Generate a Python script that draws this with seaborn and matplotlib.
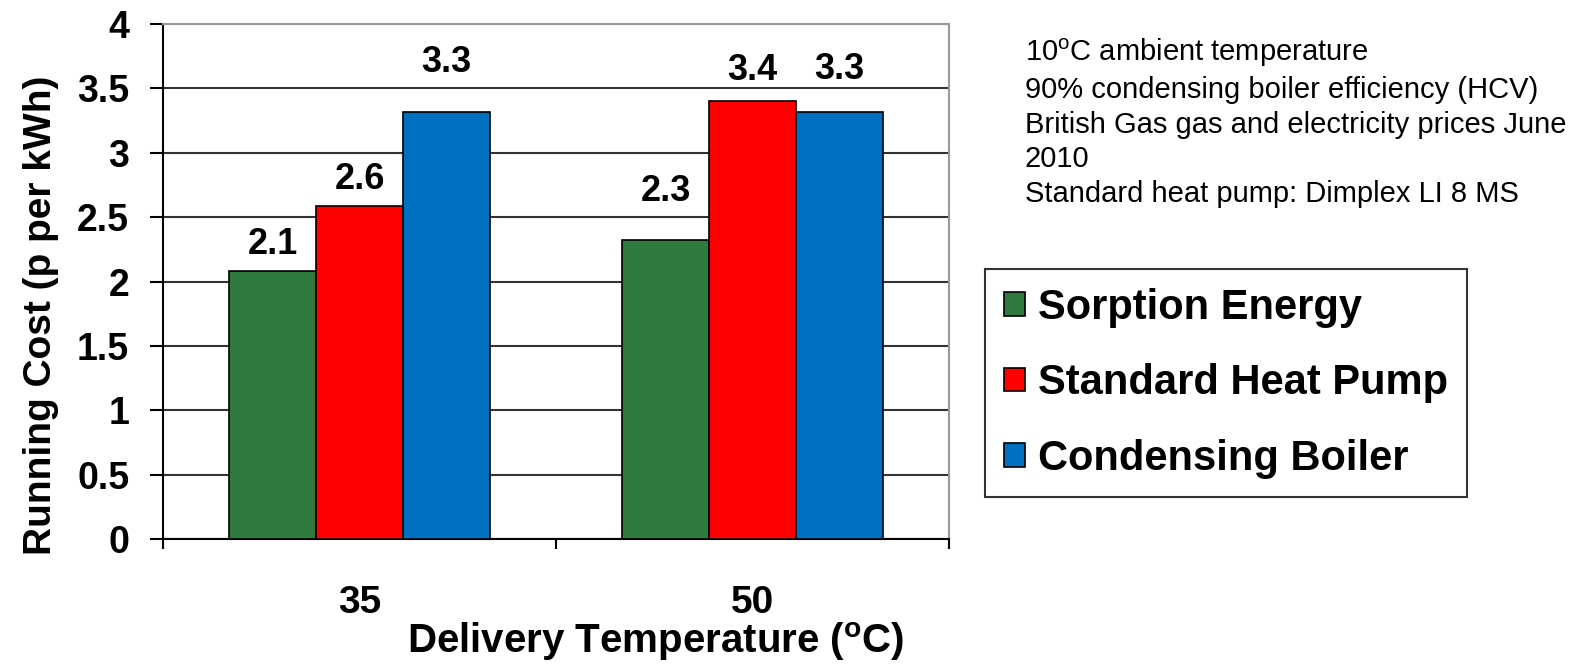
import pandas as pd
import numpy as np
import matplotlib
matplotlib.use("Agg")
import matplotlib.pyplot as plt
import seaborn as sns

# chart data
temperatures = ["35", "50"]
systems = ["Sorption Energy", "Standard Heat Pump", "Condensing Boiler"]
sorption_cost = [2.08, 2.32]
heat_pump_cost = [2.59, 3.40]
boiler_cost = [3.32, 3.32]
yticks = [0, 0.5, 1, 1.5, 2, 2.5, 3, 3.5, 4]
ytick_labels = ["0", "0.5", "1", "1.5", "2", "2.5", "3", "3.5", "4"]
notes = ["10$^{o}$C ambient temperature",
         "90% condensing boiler efficiency (HCV)",
         "British Gas gas and electricity prices June",
         "2010",
         "Standard heat pump: Dimplex LI 8 MS"]

colors = ["#2f7a3c", "#ff0000", "#0070c0"]
# vertical offset (points) of each value label centre above its bar
label_offsets = [[19, 35], [19, 22], [35, 30]]

df = pd.DataFrame({
    "Temperature": temperatures * 3,
    "System": np.repeat(systems, 2),
    "Cost": sorption_cost + heat_pump_cost + boiler_cost,
})

sns.set_style("white")
plt.rcParams["font.family"] = ["Liberation Sans", "DejaVu Sans"]
plt.rcParams["text.color"] = "black"
plt.rcParams["axes.labelcolor"] = "black"
plt.rcParams["xtick.color"] = "black"
plt.rcParams["ytick.color"] = "black"
plt.rcParams["mathtext.fontset"] = "custom"
plt.rcParams["mathtext.rm"] = "Liberation Sans"
plt.rcParams["mathtext.it"] = "Liberation Sans"
plt.rcParams["mathtext.bf"] = "Liberation Sans:bold"

fig = plt.figure(figsize=(15.77, 6.67), dpi=100)
ax = fig.add_axes([0.1034, 0.1919, 0.4984, 0.7721])

sns.barplot(data=df, x="Temperature", y="Cost", hue="System", order=temperatures,
            hue_order=systems, palette=colors, width=0.664, edgecolor="black",
            linewidth=1.2, saturation=1, ax=ax, legend=True, zorder=3)

for cont, offs in zip(ax.containers, label_offsets):
    for bar, off in zip(cont, offs):
        h = bar.get_height()
        ax.annotate(f"{h:.1f}", (bar.get_x() + bar.get_width() / 2, h),
                    xytext=(0, off), textcoords="offset points",
                    ha="center", va="center", fontsize=26, fontweight="bold")

ax.set_ylim(0, 4)
ax.set_xlim(-0.5, 1.5)
ax.set_yticks(yticks)
ax.set_yticklabels(ytick_labels, fontsize=27, fontweight="bold")
ax.yaxis.grid(True, color="#333333", linewidth=1.5, zorder=0)
ax.set_axisbelow(True)
ax.tick_params(axis="y", direction="out", length=9.4, width=1.5, pad=15, left=True)
ax.set_xticks([0, 1])
ax.set_xticklabels(temperatures, fontsize=28, fontweight="bold")
ax.set_xticks([-0.5, 0.5, 1.5], minor=True)
ax.tick_params(axis="x", which="major", length=0, pad=33)
ax.tick_params(axis="x", which="minor", direction="out", length=7, width=1.5, bottom=True)

ax.set_ylabel("Running Cost (p per kWh)", fontsize=28, fontweight="bold")
ax.yaxis.set_label_coords(-0.133, 0.435)
ax.set_xlabel(r"Delivery Temperature ($\mathbf{^{o}}$C)", fontsize=29, fontweight="bold")
ax.xaxis.set_label_coords(0.627, -0.158)

for side in ["left", "bottom"]:
    ax.spines[side].set_color("black")
    ax.spines[side].set_linewidth(1.5)
for side in ["top", "right"]:
    ax.spines[side].set_color("#999999")
    ax.spines[side].set_linewidth(1.5)

handles, labels = ax.get_legend_handles_labels()
ax.get_legend().remove()
leg = fig.legend(handles, labels, loc="upper left",
                 bbox_to_anchor=(985 / 1577, 1 - 269 / 667),
                 prop={"size": 30, "weight": "bold"}, frameon=True, fancybox=False,
                 edgecolor="black", handlelength=0.5, handleheight=0.5,
                 handletextpad=0.33, labelspacing=0.85, borderpad=0.45, borderaxespad=0)
leg.get_frame().set_linewidth(1.5)

fig.text(1025 / 1577, 1 - 37 / 667, "\n".join(notes), fontsize=21,
         va="top", ha="left", linespacing=1.3)

fig.savefig("out.png", dpi=100)
